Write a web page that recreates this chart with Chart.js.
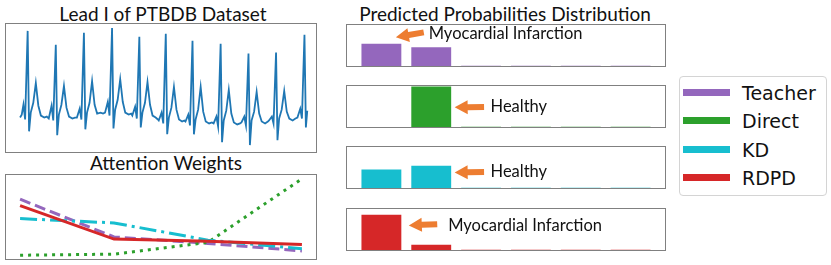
<!DOCTYPE html>
<html>
<head>
<meta charset="utf-8">
<script src="https://cdn.jsdelivr.net/npm/chart.js@4.4.0/dist/chart.umd.min.js"></script>
<style>
  body { margin: 0; background: #fff; width: 831px; height: 265px; position: relative; overflow: hidden; font-family: Lato, sans-serif; }
  .frame { position: absolute; border: 1px solid #808080; box-sizing: border-box; }
  .frame canvas { display: block; }
  .title { position: absolute; font-size: 19px; color: #111; transform: translate(-50%, -50%); white-space: nowrap; line-height: 1; }
  .legend { position: absolute; left: 679px; top: 76px; width: 148px; height: 120px; border: 1px solid #d4d4d4; border-radius: 4px; box-sizing: border-box; font-family: "DejaVu Sans", sans-serif; }
  .legend .row { position: absolute; left: 0; height: 28px; width: 100%; }
  .legend .swatch { position: absolute; left: 3px; top: 10px; width: 47px; height: 7px; }
  .legend .label { position: absolute; left: 62px; top: 3px; font-size: 19px; line-height: 22px; color: #111; }
</style>
</head>
<body>

<div class="title" style="left:163px; top:13px;">Lead I of PTBDB Dataset</div>
<div class="title" style="left:166px; top:162px;">Attention Weights</div>
<div class="title" style="left:505px; top:13px;">Predicted Probabilities Distribution</div>

<div class="frame" style="left:5px; top:23px; width:312px; height:130px;"><canvas id="ecg" width="310" height="128"></canvas></div>
<div class="frame" style="left:5px; top:174px; width:312px; height:86px;"><canvas id="attention" width="310" height="84"></canvas></div>

<div class="frame" style="left:346px; top:24px; width:320px; height:43px;"><canvas id="probs0" width="318" height="41"></canvas></div>
<div class="frame" style="left:346px; top:85px; width:320px; height:43px;"><canvas id="probs1" width="318" height="41"></canvas></div>
<div class="frame" style="left:346px; top:146px; width:320px; height:43px;"><canvas id="probs2" width="318" height="41"></canvas></div>
<div class="frame" style="left:346px; top:208px; width:320px; height:43px;"><canvas id="probs3" width="318" height="41"></canvas></div>

<div class="legend" id="legend"></div>

<script>
// ECG, lead I (time in s, amplitude in mV)
const ecgTime = [
  0.00, 0.06, 0.12, 0.18, 0.27, 0.32, 0.38, 0.47, 0.56, 0.65, 0.74, 0.86, 0.95,
  1.02, 1.12, 1.18, 1.27, 1.32, 1.38, 1.47, 1.56, 1.65, 1.74, 1.86, 1.95,
  2.02, 2.12, 2.18, 2.27, 2.32, 2.38, 2.47, 2.56, 2.65, 2.74, 2.86, 2.95,
  3.02, 3.12, 3.18, 3.27, 3.32, 3.38, 3.47, 3.56, 3.65, 3.74, 3.86, 3.95,
  3.99, 4.09, 4.15, 4.24, 4.29, 4.35, 4.44, 4.53, 4.62, 4.71, 4.82, 4.90,
  4.93, 5.03, 5.09, 5.18, 5.23, 5.29, 5.38, 5.47, 5.56, 5.65, 5.76, 5.84,
  5.88, 5.98, 6.04, 6.13, 6.18, 6.24, 6.33, 6.42, 6.51, 6.60, 6.72, 6.82,
  6.88, 6.98, 7.04, 7.13, 7.18, 7.24, 7.33, 7.42, 7.51, 7.60, 7.72, 7.82,
  7.87, 7.97, 8.03, 8.12, 8.17, 8.23, 8.32, 8.41, 8.50, 8.59, 8.71, 8.81,
  8.85, 8.95, 9.01, 9.10, 9.15, 9.21, 9.30, 9.39, 9.48, 9.57, 9.69, 9.79,
  9.86, 9.96, 10.02, 10.11, 10.16, 10.21
];
const ecgMv = [
  0.02, 0.05, 0.15, 0.00, 0.90, -0.12, 0.07, 0.17, 0.37, 0.14, 0.04, 0.02, 0.03,
  0.01, 0.14, -0.01, 0.76, -0.16, 0.05, 0.15, 0.34, 0.12, 0.03, 0.01, 0.02,
  0.02, 0.11, 0.00, 0.88, -0.10, 0.07, 0.17, 0.39, 0.15, 0.06, 0.07, 0.06,
  0.07, 0.18, 0.04, 0.93, -0.09, 0.10, 0.20, 0.41, 0.18, 0.07, 0.05, 0.06,
  0.04, 0.13, 0.01, 0.84, -0.08, 0.07, 0.17, 0.38, 0.15, 0.04, 0.02, 0.00,
  -0.01, 0.07, -0.04, 0.87, -0.15, 0.02, 0.12, 0.33, 0.10, 0.00, -0.02, -0.01,
  -0.02, 0.05, -0.06, 0.80, -0.15, 0.00, 0.10, 0.33, 0.08, -0.02, -0.04, -0.03,
  -0.04, 0.03, -0.07, 0.77, -0.23, -0.01, 0.09, 0.30, 0.06, -0.03, -0.05, -0.04,
  -0.03, 0.03, -0.06, 0.67, -0.26, -0.01, 0.08, 0.28, 0.06, -0.02, -0.04, -0.02,
  -0.01, 0.03, -0.04, 0.68, -0.21, 0.01, 0.10, 0.29, 0.08, 0.01, -0.01, 0.01,
  0.02, 0.11, 0.01, 0.86, -0.08, 0.09
];

// attention weights over 4 segments
const segments = [0, 1, 2, 3];
const teacherAttention = [0.56, 0.21, 0.15, 0.08];
const directAttention = [0.04, 0.05, 0.16, 0.75];
const kdAttention = [0.38, 0.34, 0.18, 0.10];
const rdpdAttention = [0.50, 0.19, 0.17, 0.14];

// predicted class probabilities (6 classes)
const classes = [0, 1, 2, 3, 4, 5];
const teacherProbs = [0.54, 0.46, 0.004, 0.004, 0.004, 0.004];
const directProbs = [0.0, 0.99, 0.004, 0.004, 0.004, 0.004];
const kdProbs = [0.45, 0.54, 0.004, 0.004, 0.004, 0.004];
const rdpdProbs = [0.86, 0.13, 0.004, 0.004, 0.004, 0.004];
const predictedLabels = ["Myocardial Infarction", "Healthy", "Healthy", "Myocardial Infarction"];

const seriesNames = ["Teacher", "Direct", "KD", "RDPD"];
const seriesColors = ["#9467bd", "#2ca02c", "#17becf", "#d62728"];

const quiet = { legend: { display: false }, tooltip: { enabled: false } };

// orange block arrow + label, placed in data units
const calloutPlugin = {
  id: "callout",
  afterDatasetsDraw(chart, args, opts) {
    if (!opts.text) return;
    const { ctx } = chart;
    const x = chart.scales.x, y = chart.scales.y;
    const sx = x.getPixelForValue(opts.tail[0]), sy = y.getPixelForValue(opts.tail[1]);
    const tx = x.getPixelForValue(opts.tip[0]), ty = y.getPixelForValue(opts.tip[1]);
    const len = Math.hypot(tx - sx, ty - sy);
    const head = 13, hw = 7, sw = 3;
    ctx.save();
    ctx.translate(sx, sy);
    ctx.rotate(Math.atan2(ty - sy, tx - sx));
    ctx.beginPath();
    ctx.moveTo(0, -sw);
    ctx.lineTo(len - head, -sw);
    ctx.lineTo(len - head, -hw);
    ctx.lineTo(len, 0);
    ctx.lineTo(len - head, hw);
    ctx.lineTo(len - head, sw);
    ctx.lineTo(0, sw);
    ctx.closePath();
    ctx.fillStyle = "#ed7d31";
    ctx.fill();
    ctx.restore();

    ctx.save();
    ctx.font = "16.5px Lato";
    ctx.fillStyle = "#111";
    ctx.textBaseline = "middle";
    ctx.fillText(opts.text, x.getPixelForValue(opts.at[0]), y.getPixelForValue(opts.at[1]));
    ctx.restore();
  }
};

new Chart(document.getElementById("ecg"), {
  type: "line",
  data: {
    datasets: [{
      data: ecgTime.map((t, i) => ({ x: t, y: ecgMv[i] })),
      borderColor: "#1f77b4",
      borderWidth: 1.8,
      pointRadius: 0,
      tension: 0
    }]
  },
  options: {
    responsive: false,
    animation: false,
    plugins: quiet,
    scales: {
      x: { type: "linear", min: -0.5, max: 10.52, display: false },
      y: { min: -0.33, max: 0.97, display: false }
    }
  }
});

const attentionSeries = [teacherAttention, directAttention, kdAttention, rdpdAttention];
const dashes = [[11, 5], [3, 5], [17, 5, 3, 5], []];
const drawOrder = [3, 2, 1, 0];

new Chart(document.getElementById("attention"), {
  type: "line",
  data: {
    datasets: attentionSeries.map((vals, k) => ({
      label: seriesNames[k],
      data: segments.map((s, i) => ({ x: s, y: vals[i] })),
      borderColor: seriesColors[k],
      borderWidth: 3,
      borderDash: dashes[k],
      pointRadius: 0,
      tension: 0,
      order: drawOrder[k]
    }))
  },
  options: {
    responsive: false,
    animation: false,
    plugins: quiet,
    scales: {
      x: { type: "linear", min: -0.15, max: 3.15, display: false },
      y: { min: 0.005, max: 0.785, display: false }
    }
  }
});

const probSeries = [teacherProbs, directProbs, kdProbs, rdpdProbs];
const callouts = [
  { tail: [0.85, 0.82], tip: [0.29, 0.70], at: [0.95, 0.78] },
  { tail: [2.06, 0.49], tip: [1.47, 0.48], at: [2.19, 0.485] },
  { tail: [2.06, 0.39], tip: [1.47, 0.38], at: [2.19, 0.39] },
  { tail: [1.12, 0.63], tip: [0.55, 0.60], at: [1.34, 0.60] }
];

probSeries.forEach((probs, k) => {
  new Chart(document.getElementById("probs" + k), {
    type: "bar",
    data: {
      datasets: [{
        data: classes.map((c, i) => ({ x: c, y: probs[i] })),
        backgroundColor: seriesColors[k],
        barPercentage: 1,
        categoryPercentage: 0.8
      }]
    },
    options: {
      responsive: false,
      animation: false,
      plugins: {
        ...quiet,
        callout: { text: predictedLabels[k], ...callouts[k] }
      },
      scales: {
        x: { type: "linear", min: -0.69, max: 5.69, offset: false, display: false },
        y: { min: 0, max: 1, display: false }
      }
    },
    plugins: [calloutPlugin]
  });
});

// legend
const legend = document.getElementById("legend");
seriesNames.forEach((name, k) => {
  const row = document.createElement("div");
  row.className = "row";
  row.style.top = (2 + k * 28.3) + "px";
  row.innerHTML = '<div class="swatch" style="background:' + seriesColors[k] + '"></div><div class="label">' + name + '</div>';
  legend.appendChild(row);
});
</script>
</body>
</html>
